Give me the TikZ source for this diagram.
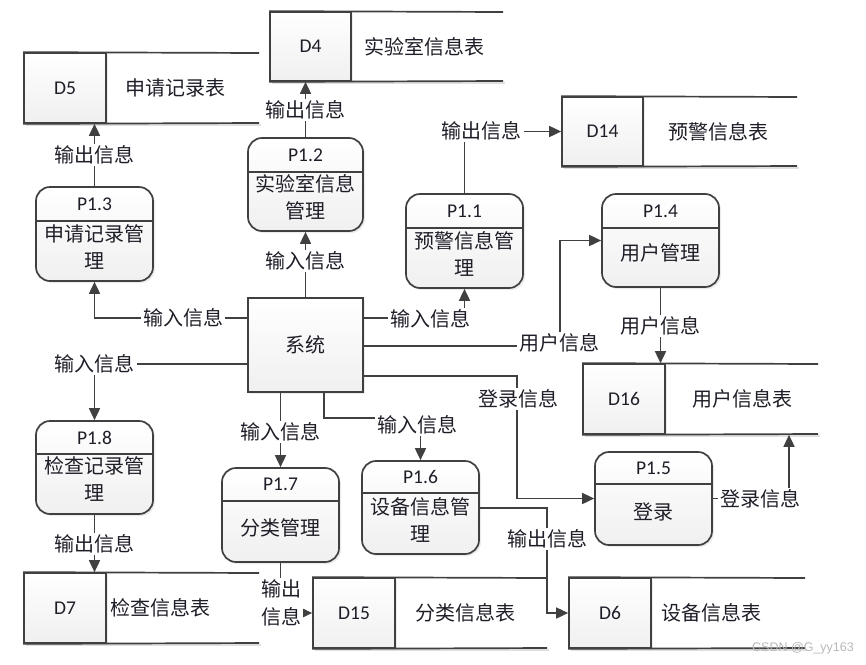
\documentclass[tikz,border=0pt]{standalone}
\usepackage{fontspec}
\setmainfont{Carlito}
\newfontfamily\cjk{Noto Sans CJK SC}
\newfontfamily\wmfont{Liberation Sans}
\usetikzlibrary{arrows.meta,shadows}
\definecolor{ln}{HTML}{404040}
\definecolor{txt}{HTML}{1E1E28}
\tikzset{
  x=1pt, y=-1pt,
  ln/.style={draw=ln, line width=1.7pt},
  arr/.style={ln, -{Triangle[length=12pt,width=11pt]}},
  proc/.style={ln, rounded corners=14pt, top color=white, bottom color=gray!12, inner sep=0pt,
    drop shadow={opacity=0.15, shadow xshift=2pt, shadow yshift=-2pt}},
  sysbox/.style={ln, top color=white, bottom color=gray!12, inner sep=0pt,
    drop shadow={opacity=0.15, shadow xshift=2pt, shadow yshift=-2pt}, text=txt,
    font=\cjk\fontsize{20}{27}\selectfont},
  sid/.style={ln, top color=white, bottom color=gray!12, inner sep=0pt, text=txt,
    font=\fontsize{19.5}{22}\selectfont},
  slab/.style={inner sep=0pt, text=txt, font=\cjk\fontsize{20}{22}\selectfont},
  ptit/.style={inner sep=0pt, text=txt, font=\fontsize{19.5}{22}\selectfont},
  pbody/.style={inner sep=0pt, text=txt, align=center, font=\cjk\fontsize{20}{27}\selectfont},
  lab/.style={fill=white, inner sep=2pt, text=txt, align=center, font=\cjk\fontsize{20}{28}\selectfont},
  wm/.style={inner sep=0pt, text=gray!55, font=\wmfont\fontsize{12.5}{14}\selectfont},
}
% name, left, top, divider, right, bottom, id, label, label x
\newcommand\dstore[9]{%
  \draw[gray!25, line width=1.6pt] ({#2+2},{#6+2}) -- ({#5+2},{#6+2});
  \node[sid, minimum width={(#4-#2)*1pt}, minimum height={(#6-#3)*1pt},
        drop shadow={opacity=0.15, shadow xshift=2pt, shadow yshift=-2pt}]
        (#1) at ({(#2+#4)/2},{(#3+#6)/2}) {#7};
  \draw[ln] (#1.north west) -- (#5,#3);
  \draw[ln] (#1.south west) -- (#5,#6);
  \node[slab] (#1l) at (#9,{(#3+#6)/2}) {#8};
}
% name, left, top, right, bottom, sep, title, body, body y
\newcommand\proc[9]{%
  \node[proc, minimum width={(#4-#2)*1pt}, minimum height={(#5-#3)*1pt}]
        (#1) at ({(#2+#4)/2},{(#3+#5)/2}) {};
  \draw[ln] (#2,#6) -- (#4,#6);
  \node[ptit] (#1t) at ({(#2+#4)/2},{(#3+#6)/2}) {#7};
  \node[pbody] (#1b) at ({(#2+#4)/2},#9) {#8};
}
\begin{document}
\begin{tikzpicture}
\useasboundingbox[fill=white] (0,0) rectangle (866,664);

% data stores
\dstore{d5}{24}{53}{106}{259}{123}{D5}{申请记录表}{175}
\dstore{d4}{270}{12}{351}{503}{81}{D4}{实验室信息表}{424}
\dstore{d14}{562}{97}{643}{797}{166}{D14}{预警信息表}{718}
\dstore{d16}{583}{364}{665}{818}{434}{D16}{用户信息表}{742}
\dstore{d7}{24}{573}{106}{259}{643}{D7}{检查信息表}{160}
\dstore{d15}{313}{578}{395}{547}{648}{D15}{分类信息表}{465}
\dstore{d6}{569}{578}{651}{805}{648}{D6}{设备信息表}{711}

% processes
\proc{p13}{36}{187}{153}{281}{221}{P1.3}{申请记录管\\理}{247}
\proc{p12}{248}{138}{363}{231}{172}{P1.2}{实验室信息\\管理}{197}
\proc{p11}{406}{194}{523}{288}{228}{P1.1}{预警信息管\\理}{254}
\proc{p14}{602}{194}{719}{287}{228}{P1.4}{用户管理}{253}
\proc{p18}{36}{421}{153}{514}{454}{P1.8}{检查记录管\\理}{479}
\proc{p17}{222}{468}{339}{562}{501}{P1.7}{分类管理}{528}
\proc{p16}{362}{461}{479}{554}{493}{P1.6}{设备信息管\\理}{520}
\proc{p15}{595}{452}{712}{545}{484}{P1.5}{登录}{512}

% system
\node[sysbox, minimum width=115pt, minimum height=94pt] (sys) at (305.5,345) {系统};

% connectors
\coordinate (c8) at (560,346);
\coordinate (c10) at (517,376);
\coordinate (c11) at (789,498.5);
\coordinate (c13) at (324,418);
\coordinate (c16) at (547,508);

\draw[arr] (p13.north) -- (p13.north |- d5.south);
\draw[arr] (p12.north) -- (p12.north |- d4.south);
\draw[arr] (p11.north) |- (d14.west);
\draw[arr] (sys.north) -- (sys.north |- p12.south);
\draw[arr] (sys.west |- 0,318) -| (p13.south);
\draw[arr] (sys.west |- 0,364) -| (p18.north);
\draw[arr] (sys.east |- 0,318) -| (p11.south);
\draw[arr] (sys.east |- c8) -- (c8) |- (p14.west);
\draw[arr] (p14.south) -- (p14.south |- d16.north);
\draw[arr] (sys.east |- c10) -- (c10) |- (p15.west);
\draw[arr] (p15.east) -- (c11) -- (c11 |- d16.south);
\draw[arr] (sys.south -| p17.north) -- (p17.north);
\draw[arr] (sys.south -| c13) -- (c13) -| (p16.north);
\draw[arr] (p18.south) -- (p18.south |- d7.north);
\draw[arr] (p17.south) |- (d15.west);
\draw[arr] (p16.east |- c16) -- (c16) |- (d6.west);

% labels
\node[lab] (l1) at (94.5,155) {输出信息};
\node[lab] (l2) at (305.5,110) {输出信息};
\node[lab] (l3) at (481.5,131) {输出信息};
\node[lab] (l4) at (305.5,261) {输入信息};
\node[lab] (l5) at (183,318) {输入信息};
\node[lab] (l6) at (94.5,364) {输入信息};
\node[lab] (l7) at (430,319) {输入信息};
\node[lab] (l8) at (559,343) {用户信息};
\node[lab] (l9) at (660.5,326) {用户信息};
\node[lab] (l10) at (518,399) {登录信息};
\node[lab] (l11) at (760,499) {登录信息};
\node[lab] (l12) at (280.5,432) {输入信息};
\node[lab] (l13) at (417,425) {输入信息};
\node[lab] (l14) at (94.5,544) {输出信息};
\node[lab] (l15) at (281,603) {输出\\信息};
\node[lab] (l16) at (547,539) {输出信息};

\node[wm] (wm) at (803,648) {CSDN @G\_yy163};
\end{tikzpicture}
\end{document}
